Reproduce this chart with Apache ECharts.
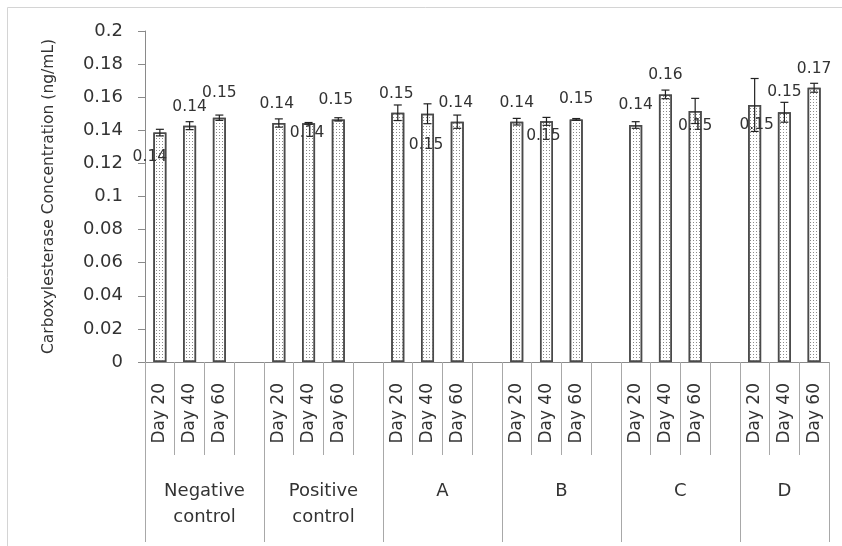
<!DOCTYPE html>
<html>
<head>
<meta charset="utf-8">
<script src="https://cdn.jsdelivr.net/npm/echarts@6/dist/echarts.min.js"></script>
<style>
html,body{margin:0;padding:0;background:#fff;}
#chart{width:842px;height:546px;}
</style>
</head>
<body>
<div id="chart"></div>
<script>
// ---- data ----
const groupNames = ['Negative\ncontrol', 'Positive\ncontrol', 'A', 'B', 'C', 'D'];
const dayNames = ['Day 20', 'Day 40', 'Day 60'];
const meanValues = [0.1386, 0.1428, 0.1476, 0.1444, 0.1442, 0.1466, 0.1506, 0.1500, 0.1452,
                    0.1452, 0.1454, 0.1466, 0.1432, 0.1617, 0.1517, 0.1553, 0.1509, 0.1657];
const errValues = [0.0020, 0.0024, 0.0016, 0.0025, 0.0005, 0.0010, 0.0047, 0.0060, 0.0040,
                   0.0020, 0.0024, 0.0005, 0.0020, 0.0026, 0.0076, 0.0160, 0.0060, 0.0027];
const labelTexts = ['0.14', '0.14', '0.15', '0.14', '0.14', '0.15', '0.15', '0.15', '0.14',
                    '0.14', '0.15', '0.15', '0.14', '0.16', '0.15', '0.15', '0.15', '0.17'];
const yTicks = { min: 0, max: 0.2, interval: 0.02 };

// ---- label placement (style only) ----
const labelOffsets = [[-10, 24], [0, -19], [0, -25], [-2, -19], [-1.5, 10], [-2.5, -19],
                      [-1.5, -19], [-1.5, 31], [-1.5, -19], [0, -19], [-3, 15], [0, -20],
                      [0, -20], [0, -19], [0, 15], [2, 20], [0, -20], [0, -19]];

// ---- build slot layout: each group has 3 days + 1 spacer (except last) ----
const categories = [];
const slotOfItem = [];
groupNames.forEach((g, gi) => {
  dayNames.forEach((d) => { slotOfItem.push(categories.length); categories.push(d); });
  if (gi < groupNames.length - 1) categories.push('');
});
const nSlots = categories.length; // 23

// group-level axis: half-slot resolution, boundaryGap false
const halfCats = new Array(nSlots * 2 + 1).fill('');
const groupBoundaries = [];
let start = 0;
groupNames.forEach((g, gi) => {
  const width = gi < groupNames.length - 1 ? 4 : 3;
  halfCats[start * 2 + width] = g;
  groupBoundaries.push(start * 2);
  start += width;
});
groupBoundaries.push(nSlots * 2);

const barData = new Array(nSlots).fill('-');
meanValues.forEach((v, i) => {
  barData[slotOfItem[i]] = {
    value: v,
    label: { offset: labelOffsets[i], formatter: labelTexts[i] }
  };
});
const errData = meanValues.map((v, i) => [slotOfItem[i], v - errValues[i], v + errValues[i]]);

const FONT = 'DejaVu Sans';
const chart = echarts.init(document.getElementById('chart'), null, { renderer: 'canvas' });
chart.setOption({
  animation: false,
  backgroundColor: '#fff',
  textStyle: { fontFamily: FONT },
  graphic: [{
    type: 'rect', z: -10, silent: true,
    shape: { x: 7.5, y: 7.5, width: 850, height: 560 },
    style: { fill: 'none', stroke: '#d4d4d4', lineWidth: 1 }
  }],
  grid: { left: 145, right: 13, top: 31, bottom: 184, containLabel: false },
  xAxis: [{
    type: 'category',
    data: categories,
    position: 'bottom',
    axisLine: { show: true, lineStyle: { color: '#8a8a8a', width: 1 } },
    axisTick: { show: true, interval: 0, length: 93, lineStyle: { color: '#a8a8a8', width: 1 } },
    axisLabel: { interval: 0, rotate: 90, margin: 21, fontSize: 17, color: '#333', fontFamily: FONT }
  }, {
    type: 'category',
    data: halfCats,
    boundaryGap: false,
    position: 'bottom',
    axisLine: { show: false },
    axisTick: {
      show: true, length: 180,
      interval: (idx) => groupBoundaries.indexOf(idx) >= 0,
      lineStyle: { color: '#a8a8a8', width: 1 }
    },
    axisLabel: { interval: 0, margin: 116, fontSize: 18, lineHeight: 26, color: '#333', fontFamily: FONT }
  }],
  yAxis: {
    type: 'value',
    min: yTicks.min, max: yTicks.max, interval: yTicks.interval,
    name: 'Carboxylesterase Concentration (ng/mL)',
    nameLocation: 'middle',
    nameRotate: 90,
    nameGap: 88,
    nameTextStyle: { fontSize: 15.5, color: '#333', fontFamily: FONT },
    axisLine: { show: true, lineStyle: { color: '#8a8a8a', width: 1 } },
    axisTick: { show: true, length: 7, lineStyle: { color: '#8a8a8a' } },
    splitLine: { show: false },
    axisLabel: { margin: 22, fontSize: 18, color: '#333', fontFamily: FONT }
  },
  series: [{
    type: 'bar',
    xAxisIndex: 0,
    barWidth: 13,
    data: barData,
    itemStyle: {
      color: '#ffffff',
      borderColor: '#4a4a4a',
      borderWidth: 1.5,
      decal: { symbol: 'rect', symbolSize: 1, dashArrayX: [1, 2], dashArrayY: [1, 2], color: '#8a8a8a' }
    },
    label: {
      show: true, position: 'top', distance: 0, verticalAlign: 'middle',
      fontSize: 15.5, color: '#333', fontFamily: FONT
    }
  }, {
    type: 'custom',
    xAxisIndex: 0,
    data: errData,
    encode: { x: 0, y: [1, 2] },
    z: 5,
    renderItem: function (params, api) {
      const x = api.value(0);
      const lo = api.coord([x, api.value(1)]);
      const hi = api.coord([x, api.value(2)]);
      const cap = 4;
      const st = { stroke: '#222', lineWidth: 1.2 };
      return {
        type: 'group',
        children: [
          { type: 'line', shape: { x1: lo[0], y1: lo[1], x2: hi[0], y2: hi[1] }, style: st },
          { type: 'line', shape: { x1: hi[0] - cap, y1: hi[1], x2: hi[0] + cap, y2: hi[1] }, style: st },
          { type: 'line', shape: { x1: lo[0] - cap, y1: lo[1], x2: lo[0] + cap, y2: lo[1] }, style: st }
        ]
      };
    }
  }]
});
</script>
</body>
</html>
